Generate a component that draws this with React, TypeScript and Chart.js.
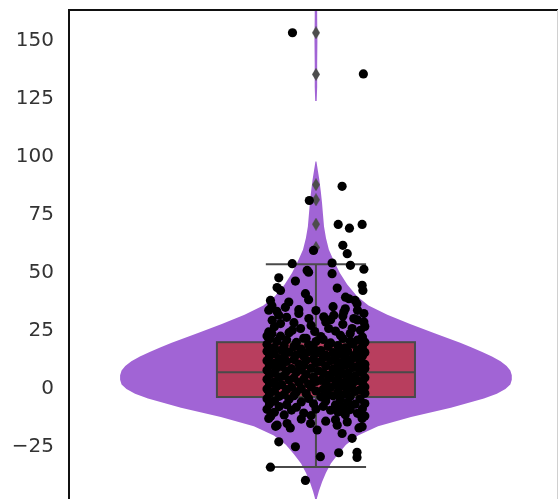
import React, { useEffect, useRef } from "react";
import { Chart, registerables } from "chart.js";

Chart.register(...registerables);

// ---- data ----
const yTicks = [-25, 0, 25, 50, 75, 100, 125, 150];

// violin outline: value -> half width (in category units)
const violinValues = [-60, -47, -44, -40, -36, -32, -28, -24, -20, -16, -12, -8, -4, -2, 0, 2, 4, 6, 8, 10, 12, 14, 16, 18, 20, 24, 28, 32, 36, 40, 45, 50, 55, 60, 65, 70, 75, 80, 85, 90, 94, 98];
const violinHalfWidths = [0, 0.004, 0.012, 0.025, 0.041, 0.061, 0.09, 0.123, 0.172, 0.254, 0.389, 0.552, 0.687, 0.74, 0.775, 0.795, 0.801, 0.801, 0.795, 0.78, 0.755, 0.72, 0.68, 0.635, 0.59, 0.485, 0.385, 0.292, 0.215, 0.168, 0.128, 0.098, 0.074, 0.053, 0.041, 0.033, 0.029, 0.025, 0.02, 0.014, 0.008, 0.002];
const violinTailValues = [124, 130, 140, 150, 160, 175];
const violinTailHalfWidths = [0.003, 0.005, 0.005, 0.006, 0.005, 0.005];

// box statistics
const boxQ1 = -3.4;
const boxMedian = 7.3;
const boxQ3 = 20.2;
const whiskerLow = -33.5;
const whiskerHigh = 53.7;
const outlierValues = [153.4, 135.5, 88.0, 81.5, 71.0, 61.0];

// strip (jittered) points: [jitter, value]
const stripPoints: [number, number][] = [
  [-0.096, 153.4], [0.194, 135.7], [0.107, 87.3], [-0.027, 81.2], [0.091, 70.9], [0.137, 69.3], [0.189, 70.9],
  [0.11, 61.9], [0.128, 58.3], [-0.01, 59.7], [-0.097, 54], [0.066, 54.3], [0.141, 53.3], [0.196, 51.6],
  [-0.036, 51.1], [-0.03, 50.3], [-0.152, 47.9], [0.066, 49.7], [-0.084, 46.5], [0.087, 43.5], [0.189, 44.7],
  [0.192, 42.5], [-0.159, 43.7], [-0.145, 42.5], [-0.043, 41.1], [0.121, 39.6], [0.135, 38.9], [-0.186, 38.2],
  [-0.111, 37.5], [0.168, 36.8], [-0.193, 34.0], [-0.07, 34.2], [0.114, 33.2], [0.196, 32.5], [-0.152, 31.8],
  [-0.179, 29.6], [-0.029, 30.4], [0.032, 31.1], [0.073, 31.8], [0.155, 30.4], [0.196, 28.9], [-0.145, 28.2],
  [-0.097, 25.3], [-0.063, 26.1], [-0.193, 24.6], [0.052, 26.1], [0.148, 26.1], [0.182, 25.3], [0.1, 23.2],
  [-0.145, 22.8], [-0.17, 26.8], [-0.02, 27.4], [0.11, 27.9], [0.2, 27.0], [-0.09, 28.6], [0.04, 28.9],
  [0.17, 29.8], [-0.12, 30.9], [0.11, 31.5], [-0.07, 32.6], [0.12, 34.6], [-0.16, 33.5], [0.0, 33.8],
  [-0.18, 35.9], [0.07, 35.5], [-0.03, 38.5], [0.16, 38.2], [0.02, 22.6], [-0.04, 21.9], [-0.18, 23.8],
  [0.14, 23.9], [0.19, 22.4], [-0.11, 24.3], [0.08, 25.0], [-0.005, 24.8], [0.17, 33.9], [-0.125, 35.2],
  [0.19, 21.3], [-0.2, 22.9], [0.06, 29.9],
  [-0.19, 21.7], [-0.12, 21.2], [-0.05, 21.9], [0.03, 21.4], [0.11, 21.8], [0.17, 21.1],
  [-0.16, 20.6], [-0.08, 20.1], [0.0, 20.5], [0.06, 19.9], [0.14, 20.7], [0.2, 20.2],
  [-0.2, 19.3], [-0.13, 18.8], [-0.03, 19.1], [0.09, 18.7], [0.15, 19.4],
  [-0.17, 17.9], [-0.09, 18.3], [-0.01, 17.7], [0.05, 18.4], [0.12, 17.8], [0.19, 18.2],
  [-0.14, 16.8], [-0.06, 17.2], [0.02, 16.6], [0.1, 17.1], [0.17, 16.9],
  [-0.2, 16.3], [-0.11, 15.9], [-0.03, 16.1], [0.07, 15.7], [0.13, 16.4], [0.2, 15.8],
  [-0.17, 15.2], [-0.08, 14.8], [0.0, 15.4], [0.04, 14.6], [0.1, 15.0], [0.16, 14.7],
  [-0.19, 14.1], [-0.13, 13.7], [-0.05, 14.2], [0.03, 13.6], [0.12, 13.9], [0.19, 14.3],
  [-0.15, 13.1], [-0.09, 12.7], [-0.01, 13.0], [0.08, 12.8], [0.15, 13.3],
  [-0.2, 12.2], [-0.12, 11.9], [-0.04, 12.4], [0.02, 11.8], [0.06, 12.3], [0.11, 11.7], [0.18, 12.0],
  [-0.17, 11.1], [-0.07, 10.8], [0.0, 11.3], [0.09, 10.9], [0.14, 11.2], [0.2, 10.7],
  [-0.19, 10.1], [-0.14, 9.8], [-0.05, 10.3], [0.04, 9.9], [0.12, 10.4], [0.17, 9.7],
  [-0.16, 9.2], [-0.1, 8.8], [-0.02, 9.0], [0.07, 8.7], [0.15, 9.3], [0.2, 8.9],
  [-0.2, 8.1], [-0.12, 7.8], [-0.06, 8.3], [0.01, 7.9], [0.1, 8.2], [0.18, 7.7],
  [-0.17, 7.0], [-0.08, 7.4], [0.03, 6.8], [0.08, 7.3], [0.13, 6.9], [0.19, 7.1],
  [-0.19, 6.2], [-0.13, 5.8], [-0.04, 6.3], [0.05, 5.9], [0.11, 6.4], [0.16, 5.7],
  [-0.15, 5.1], [-0.09, 4.8], [-0.01, 5.2], [0.06, 4.7], [0.14, 5.0], [0.2, 4.9],
  [-0.2, 4.2], [-0.11, 3.9], [-0.05, 4.3], [0.02, 3.8], [0.09, 4.1], [0.17, 3.7],
  [-0.17, 3.1], [-0.07, 2.8], [0.0, 3.3], [0.04, 2.7], [0.12, 3.0], [0.19, 2.9],
  [-0.19, 2.3], [-0.14, 1.9], [-0.03, 2.2], [0.08, 1.8], [0.15, 2.4],
  [-0.16, 1.2], [-0.1, 0.8], [-0.02, 1.0], [0.06, 0.7], [0.11, 1.3], [0.2, 0.9],
  [-0.2, 0.1], [-0.12, -0.2], [-0.06, 0.3], [0.03, -0.1], [0.13, 0.2], [0.18, -0.3],
  [-0.17, -0.9], [-0.08, -1.2], [0.0, -0.8], [0.09, -1.3], [0.16, -1.0],
  [-0.19, -2.0], [-0.13, -2.3], [-0.04, -1.9], [0.05, -2.4], [0.12, -2.1], [0.2, -1.8],
  [-0.15, -3.1], [-0.09, -2.8], [0.02, -3.3], [0.07, -2.9], [0.14, -3.2],
  [-0.2, -4.1], [-0.11, -4.4], [-0.03, -4.0], [0.1, -4.5], [0.18, -4.2],
  [-0.17, -5.2], [-0.06, -5.5], [0.04, -5.1], [0.13, -5.6],
  [-0.19, -6.4], [-0.12, -6.7], [-0.01, -6.3], [0.08, -6.8], [0.16, -6.5], [0.2, -6.2],
  [-0.15, -7.5], [-0.08, -7.8], [0.03, -7.4], [0.11, -7.9],
  [-0.2, -8.7], [-0.1, -9.0], [0.0, -8.6], [0.06, -9.1], [0.14, -8.8], [0.19, -8.5],
  [-0.17, -10.0], [-0.05, -10.3], [0.09, -9.9], [0.17, -10.4],
  [-0.13, -11.1], [-0.02, -11.4], [0.12, -11.0], [0.2, -11.6],
  [-0.193, -12.6], [-0.159, -15.5], [-0.118, -14.8], [-0.022, -14.8], [0.005, -17.6], [0.087, -15.5],
  [0.128, -14.1], [0.189, -12.6], [0.189, -16.2], [0.107, -19.1], [0.148, -21.2], [-0.152, -22.7],
  [-0.084, -24.8], [0.018, -29.1], [0.093, -27.4], [0.168, -27.2], [0.168, -29.4], [-0.186, -33.6],
  [-0.043, -39.3], [-0.185, -11.7], [-0.165, -16.0], [-0.105, -16.7], [0.176, -16.7], [0.08, -13.2],
  [-0.06, -12.9], [0.04, -13.8],
];

// ---- styles ----
const VIOLIN_COLOR = "rgb(161, 100, 213)";
const BOX_COLOR = "rgb(184, 62, 94)";
const LINE_COLOR = "#4a4a4a";
const CENTER = 0;
const BOX_HALF = 0.405;
const CAP_HALF = 0.205;

const violinBoxPlugin = {
  id: "violinBox",
  beforeDatasetsDraw(chart: any) {
    const { ctx, chartArea, scales } = chart;
    const x = scales.x;
    const y = scales.y;
    ctx.save();
    ctx.beginPath();
    ctx.rect(chartArea.left, chartArea.top, chartArea.width, chartArea.height);
    ctx.clip();

    const drawViolin = (vals: number[], ws: number[]) => {
      ctx.beginPath();
      vals.forEach((v, i) => {
        const px = x.getPixelForValue(CENTER + ws[i]);
        const py = y.getPixelForValue(v);
        if (i === 0) ctx.moveTo(px, py);
        else ctx.lineTo(px, py);
      });
      for (let i = vals.length - 1; i >= 0; i--) {
        ctx.lineTo(x.getPixelForValue(CENTER - ws[i]), y.getPixelForValue(vals[i]));
      }
      ctx.closePath();
      ctx.fillStyle = VIOLIN_COLOR;
      ctx.fill();
    };
    drawViolin(violinValues, violinHalfWidths);
    drawViolin(violinTailValues, violinTailHalfWidths);

    const cx = x.getPixelForValue(CENTER);
    ctx.strokeStyle = LINE_COLOR;
    ctx.lineWidth = 2;
    // whisker line
    ctx.beginPath();
    ctx.moveTo(cx, y.getPixelForValue(whiskerLow));
    ctx.lineTo(cx, y.getPixelForValue(whiskerHigh));
    ctx.stroke();

    // box
    const bl = x.getPixelForValue(CENTER - BOX_HALF);
    const br = x.getPixelForValue(CENTER + BOX_HALF);
    const bt = y.getPixelForValue(boxQ3);
    const bb = y.getPixelForValue(boxQ1);
    ctx.fillStyle = BOX_COLOR;
    ctx.fillRect(bl, bt, br - bl, bb - bt);
    ctx.strokeRect(bl, bt, br - bl, bb - bt);
    // median
    const my = y.getPixelForValue(boxMedian);
    ctx.beginPath();
    ctx.moveTo(bl, my);
    ctx.lineTo(br, my);
    ctx.stroke();
    // caps
    const cl = x.getPixelForValue(CENTER - CAP_HALF);
    const cr = x.getPixelForValue(CENTER + CAP_HALF);
    [whiskerLow, whiskerHigh].forEach((v) => {
      const py = y.getPixelForValue(v);
      ctx.beginPath();
      ctx.moveTo(cl, py);
      ctx.lineTo(cr, py);
      ctx.stroke();
    });
    ctx.restore();
  },
  afterDraw(chart: any) {
    const { ctx, chartArea } = chart;
    ctx.save();
    ctx.strokeStyle = "#111";
    ctx.lineWidth = 2;
    ctx.beginPath();
    ctx.moveTo(chartArea.left, chartArea.bottom);
    ctx.lineTo(chartArea.left, chartArea.top);
    ctx.lineTo(chartArea.right, chartArea.top);
    ctx.stroke();
    ctx.strokeStyle = "#d0d0d0";
    ctx.lineWidth = 1;
    ctx.beginPath();
    ctx.moveTo(chartArea.right - 0.5, chartArea.top);
    ctx.lineTo(chartArea.right - 0.5, chartArea.bottom);
    ctx.stroke();
    ctx.restore();
  },
};

function makeDiamond(): HTMLCanvasElement {
  const c = document.createElement("canvas");
  c.width = 8;
  c.height = 13;
  const g = c.getContext("2d")!;
  g.fillStyle = "#4d4d4d";
  g.beginPath();
  g.moveTo(4, 0);
  g.lineTo(8, 6.5);
  g.lineTo(4, 13);
  g.lineTo(0, 6.5);
  g.closePath();
  g.fill();
  return c;
}

export default function App() {
  const ref = useRef<HTMLCanvasElement | null>(null);
  useEffect(() => {
    if (!ref.current) return;
    const diamond = makeDiamond();
    const chart = new Chart(ref.current, {
      type: "scatter",
      data: {
        datasets: [
          {
            label: "points",
            data: stripPoints.map(([j, v]) => ({ x: CENTER + j, y: v })),
            backgroundColor: "#000",
            borderColor: "#000",
            borderWidth: 0,
            pointRadius: 4.6,
            pointHoverRadius: 4.6,
          },
          {
            label: "outliers",
            data: outlierValues.map((v) => ({ x: CENTER, y: v })),
            pointStyle: diamond as any,
            pointRadius: 5,
          },
        ],
      },
      plugins: [violinBoxPlugin],
      options: {
        animation: false,
        responsive: false,
        devicePixelRatio: 1,
        layout: { autoPadding: false, padding: { top: 10, right: 2, bottom: 0, left: 0 } },
        plugins: { legend: { display: false }, tooltip: { enabled: false } },
        scales: {
          x: { type: "linear", min: -1.01, max: 0.99, display: false },
          y: {
            type: "linear",
            min: -47.3,
            max: 163.2,
            grid: { display: false, drawTicks: false },
            border: { display: false },
            afterBuildTicks: (s: any) => {
              s.ticks = yTicks.map((v) => ({ value: v }));
            },
            afterFit: (s: any) => {
              s.width = 69;
              s.paddingTop = 0;
              s.paddingBottom = 0;
            },
            ticks: {
              padding: 15,
              color: "#333",
              font: { family: "DejaVu Sans", size: 20 },
              callback: (v: any) => (Number(v) < 0 ? "\u2212" + Math.abs(Number(v)) : String(v)),
            },
          },
        },
      },
    });
    return () => chart.destroy();
  }, []);
  return (
    <div style={{ position: "fixed", left: 0, top: 0, width: 560, height: 499, background: "#fff" }}>
      <canvas ref={ref} width={560} height={499} style={{ width: 560, height: 499, display: "block" }} />
    </div>
  );
}
